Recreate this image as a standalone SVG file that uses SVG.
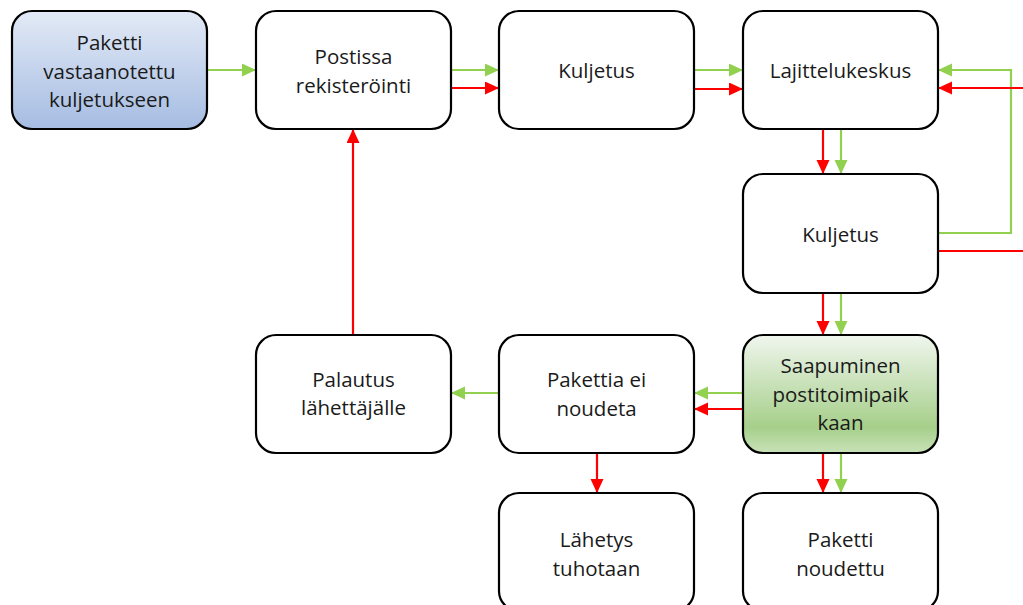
<svg xmlns="http://www.w3.org/2000/svg" width="1023" height="605" viewBox="0 0 1023 605">
<defs>
<linearGradient id="gBlue" x1="0" y1="0" x2="0" y2="1">
<stop offset="0" stop-color="#e3eaf6"/>
<stop offset="1" stop-color="#a5bce2"/>
</linearGradient>
<linearGradient id="gGreen" x1="0" y1="0" x2="0" y2="1">
<stop offset="0" stop-color="#f0f6ee"/>
<stop offset="0.78" stop-color="#a6cf8a"/>
<stop offset="1" stop-color="#c8e2b8"/>
</linearGradient>
<marker id="aG" markerUnits="userSpaceOnUse" markerWidth="14" markerHeight="14" refX="14" refY="6.5" orient="auto">
<path d="M0,0 L14,6.5 L0,13 z" fill="#92d050"/>
</marker>
<marker id="aR" markerUnits="userSpaceOnUse" markerWidth="14" markerHeight="14" refX="14" refY="6.5" orient="auto">
<path d="M0,0 L14,6.5 L0,13 z" fill="#ff0000"/>
</marker>
</defs>
<style>
.box{stroke:#000;stroke-width:2.2;fill:#fff}
.t{font-family:"Open Sans","Liberation Sans",sans-serif;font-size:20.5px;fill:#1a1a1a;text-anchor:middle}
.g{stroke:#92d050;stroke-width:2.2;fill:none}
.r{stroke:#ff0000;stroke-width:2.2;fill:none}
.g.a{marker-end:url(#aG)}
.r.a{marker-end:url(#aR)}
</style>
<rect width="1023" height="605" fill="#fff"/>
<g id="connectors">
<path class="g a" d="M207,70 H256"/>
<path class="g a" d="M451,70 H499"/>
<path class="r a" d="M451,88 H499"/>
<path class="g a" d="M694,70 H743"/>
<path class="r a" d="M694,89 H743"/>
<path class="r a" d="M823,129 V174"/>
<path class="g a" d="M841,129 V174"/>
<path class="r a" d="M823,293 V335"/>
<path class="g a" d="M841,293 V335"/>
<path class="g a" d="M938,233 H1011 V70 H938"/>
<path class="r" d="M938,251 H1023"/>
<path class="r a" d="M1023,88 H938"/>
<path class="g a" d="M743,393 H694"/>
<path class="r a" d="M743,409 H694"/>
<path class="g a" d="M498,393 H451"/>
<path class="r a" d="M597,453 V493"/>
<path class="r a" d="M823,453 V493"/>
<path class="g a" d="M841,453 V493"/>
<path class="r a" d="M353,335 V129"/>
</g>
<g id="n1">
<rect class="box" x="12" y="11" width="195" height="118" rx="20" fill="url(#gBlue)" style="fill:url(#gBlue)"/>
<text class="t" x="109.5" y="50">Paketti</text>
<text class="t" x="109.5" y="78.5">vastaanotettu</text>
<text class="t" x="109.5" y="107">kuljetukseen</text>
</g>
<g id="n2">
<rect class="box" x="256" y="11" width="195" height="118" rx="20"/>
<text class="t" x="353.5" y="64">Postissa</text>
<text class="t" x="353.5" y="93">rekisteröinti</text>
</g>
<g id="n3">
<rect class="box" x="499" y="11" width="195" height="118" rx="20"/>
<text class="t" x="596.5" y="78">Kuljetus</text>
</g>
<g id="n4">
<rect class="box" x="743" y="11" width="195" height="118" rx="20"/>
<text class="t" x="840.5" y="78">Lajittelukeskus</text>
</g>
<g id="n5">
<rect class="box" x="743" y="174" width="195" height="119" rx="20"/>
<text class="t" x="840.5" y="242">Kuljetus</text>
</g>
<g id="n6">
<rect class="box" x="743" y="335" width="195" height="118" rx="20" style="fill:url(#gGreen)"/>
<text class="t" x="840.5" y="373">Saapuminen</text>
<text class="t" x="840.5" y="402">postitoimipaik</text>
<text class="t" x="840.5" y="430">kaan</text>
</g>
<g id="n7">
<rect class="box" x="499" y="335" width="195" height="118" rx="20"/>
<text class="t" x="596.5" y="387">Pakettia ei</text>
<text class="t" x="596.5" y="416">noudeta</text>
</g>
<g id="n8">
<rect class="box" x="256" y="335" width="195" height="118" rx="20"/>
<text class="t" x="353.5" y="387">Palautus</text>
<text class="t" x="353.5" y="415">lähettäjälle</text>
</g>
<g id="n9">
<rect class="box" x="499" y="493" width="195" height="118" rx="20"/>
<text class="t" x="596.5" y="547">Lähetys</text>
<text class="t" x="596.5" y="576">tuhotaan</text>
</g>
<g id="n10">
<rect class="box" x="743" y="493" width="195" height="118" rx="20"/>
<text class="t" x="840.5" y="547">Paketti</text>
<text class="t" x="840.5" y="576">noudettu</text>
</g>
</svg>
